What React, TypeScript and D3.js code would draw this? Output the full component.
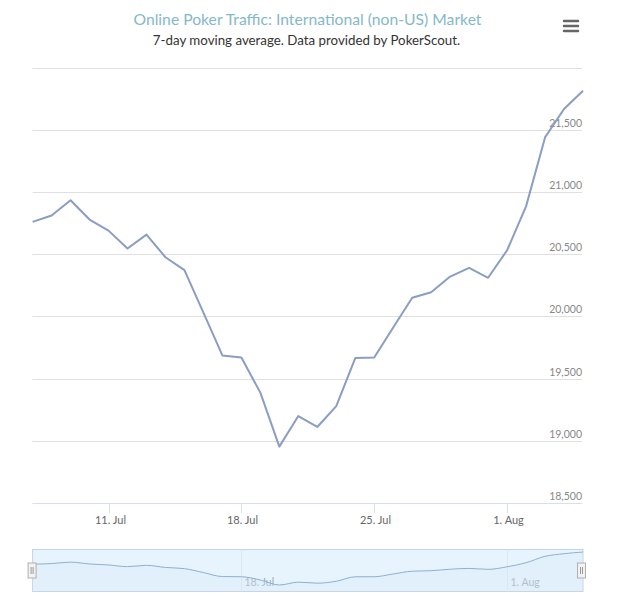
import React from "react";
import * as d3 from "d3";

const dates = [
  "2013-07-07", "2013-07-08", "2013-07-09", "2013-07-10", "2013-07-11", "2013-07-12",
  "2013-07-13", "2013-07-14", "2013-07-15", "2013-07-16", "2013-07-17", "2013-07-18",
  "2013-07-19", "2013-07-20", "2013-07-21", "2013-07-22", "2013-07-23", "2013-07-24",
  "2013-07-25", "2013-07-26", "2013-07-27", "2013-07-28", "2013-07-29", "2013-07-30",
  "2013-07-31", "2013-08-01", "2013-08-02", "2013-08-03", "2013-08-04", "2013-08-05",
];
const traffic = [
  20759, 20810, 20933, 20778, 20689, 20545,
  20657, 20475, 20371, 20030, 19686, 19670,
  19387, 18953, 19199, 19111, 19279, 19665,
  19670, 19910, 20149, 20194, 20320, 20390,
  20310, 20531, 20884, 21438, 21666, 21813,
];
const yTickValues = [18500, 19000, 19500, 20000, 20500, 21000, 21500, 22000];
const xTickDates = ["2013-07-11", "2013-07-18", "2013-07-25", "2013-08-01"];
const xTickLabels = ["11. Jul", "18. Jul", "25. Jul", "1. Aug"];
const navTickDates = ["2013-07-18", "2013-08-01"];
const navTickLabels = ["18. Jul", "1. Aug"];
const titleText = "Online Poker Traffic: International (non-US) Market";
const subtitleText = "7-day moving average. Data provided by PokerScout.";

const FONT = "Lato, 'Open Sans', sans-serif";

export default function App() {
  const parse = d3.utcParse("%Y-%m-%d");
  const data = dates.map((d, i) => ({ date: parse(d) as Date, value: traffic[i] }));
  const left = 32.6;
  const right = 583;
  const top = 67.5;
  const bottom = 503;
  const x = d3
    .scaleUtc()
    .domain(d3.extent(data, (d) => d.date) as [Date, Date])
    .range([left, right]);
  const y = d3.scaleLinear().domain([18500, 22000]).range([bottom, top]);
  const line = d3
    .line<{ date: Date; value: number }>()
    .x((d) => x(d.date))
    .y((d) => y(d.value));

  const navTop = 549.5;
  const navBottom = 591.5;
  const navY = d3
    .scaleLinear()
    .domain(d3.extent(traffic) as [number, number])
    .range([585, 552]);
  const navArea = d3
    .area<{ date: Date; value: number }>()
    .curve(d3.curveMonotoneX)
    .x((d) => x(d.date))
    .y0(navBottom)
    .y1((d) => navY(d.value));
  const navLine = d3
    .line<{ date: Date; value: number }>()
    .curve(d3.curveMonotoneX)
    .x((d) => x(d.date))
    .y((d) => navY(d.value));

  const fmt = d3.format(",");
  const handleY = 563;
  const handle = (cx: number, key: string) => (
    <g key={key}>
      <rect x={cx - 4.5} y={handleY} width={8} height={15} fill="#f2f2f2" stroke="#b0b0b0" strokeWidth={1} />
      <line x1={cx - 1.5} x2={cx - 1.5} y1={handleY + 4} y2={handleY + 11} stroke="#999" strokeWidth={1} />
      <line x1={cx + 0.5} x2={cx + 0.5} y1={handleY + 4} y2={handleY + 11} stroke="#999" strokeWidth={1} />
    </g>
  );

  return (
    <svg
      width={620}
      height={601}
      style={{ position: "absolute", left: 0, top: 0, background: "#fff" }}
      fontFamily={FONT}
    >
      <rect x={0} y={0} width={620} height={601} fill="#fff" />
      <text x={307.5} y={25} textAnchor="middle" fontSize={15.7} fill="#86b8ca">
        {titleText}
      </text>
      <text x={306.5} y={45} textAnchor="middle" fontSize={13.3} fill="#333">
        {subtitleText}
      </text>
      <g stroke="#666" strokeWidth={2.5} strokeLinecap="round">
        {[21, 26, 31].map((yy) => (
          <line key={yy} x1={564} x2={578} y1={yy} y2={yy} />
        ))}
      </g>

      {yTickValues.map((v) => (
        <g key={v}>
          <line x1={left} x2={right - 1} y1={Math.round(y(v)) + 0.5} y2={Math.round(y(v)) + 0.5} stroke="#e0e0e0" strokeWidth={1} />
          {v < 22000 && (
            <text x={582} y={y(v) - 3} textAnchor="end" fontSize={10.5} fill="#888">
              {fmt(v)}
            </text>
          )}
        </g>
      ))}
      <line x1={left} x2={right - 1} y1={503.5} y2={503.5} stroke="#d8dfe8" strokeWidth={1} />
      {xTickDates.map((d, i) => {
        const xx = Math.round(x(parse(d) as Date)) + 0.5;
        return (
          <g key={d}>
            <line x1={xx} x2={xx} y1={503.5} y2={513} stroke="#d8dfe8" strokeWidth={1} />
            <text x={xx + 1} y={524} textAnchor="middle" fontSize={11} fill="#666">
              {xTickLabels[i]}
            </text>
          </g>
        );
      })}

      <path d={line(data) || ""} fill="none" stroke="#8b9dc3" strokeWidth={2} strokeLinejoin="round" />

      <rect x={left} y={navTop} width={right - left} height={navBottom - navTop} fill="#e8f4fd" stroke="#c5d3e0" strokeWidth={1} />
      {navTickDates.map((d, i) => {
        const xx = Math.round(x(parse(d) as Date)) + 0.5;
        return (
          <g key={d}>
            <line x1={xx} x2={xx} y1={navTop} y2={navBottom} stroke="#dde8f2" strokeWidth={1} />
            <text x={xx + 3} y={586} fontSize={10.5} fill="#a0a9b4">
              {navTickLabels[i]}
            </text>
          </g>
        );
      })}
      <path d={navArea(data) || ""} fill="#d6e8f7" fillOpacity={0.35} stroke="none" />
      <path d={navLine(data) || ""} fill="none" stroke="#8fb0cf" strokeWidth={1} />
      {handle(left, "l")}
      {handle(right - 1, "r")}
    </svg>
  );
}
